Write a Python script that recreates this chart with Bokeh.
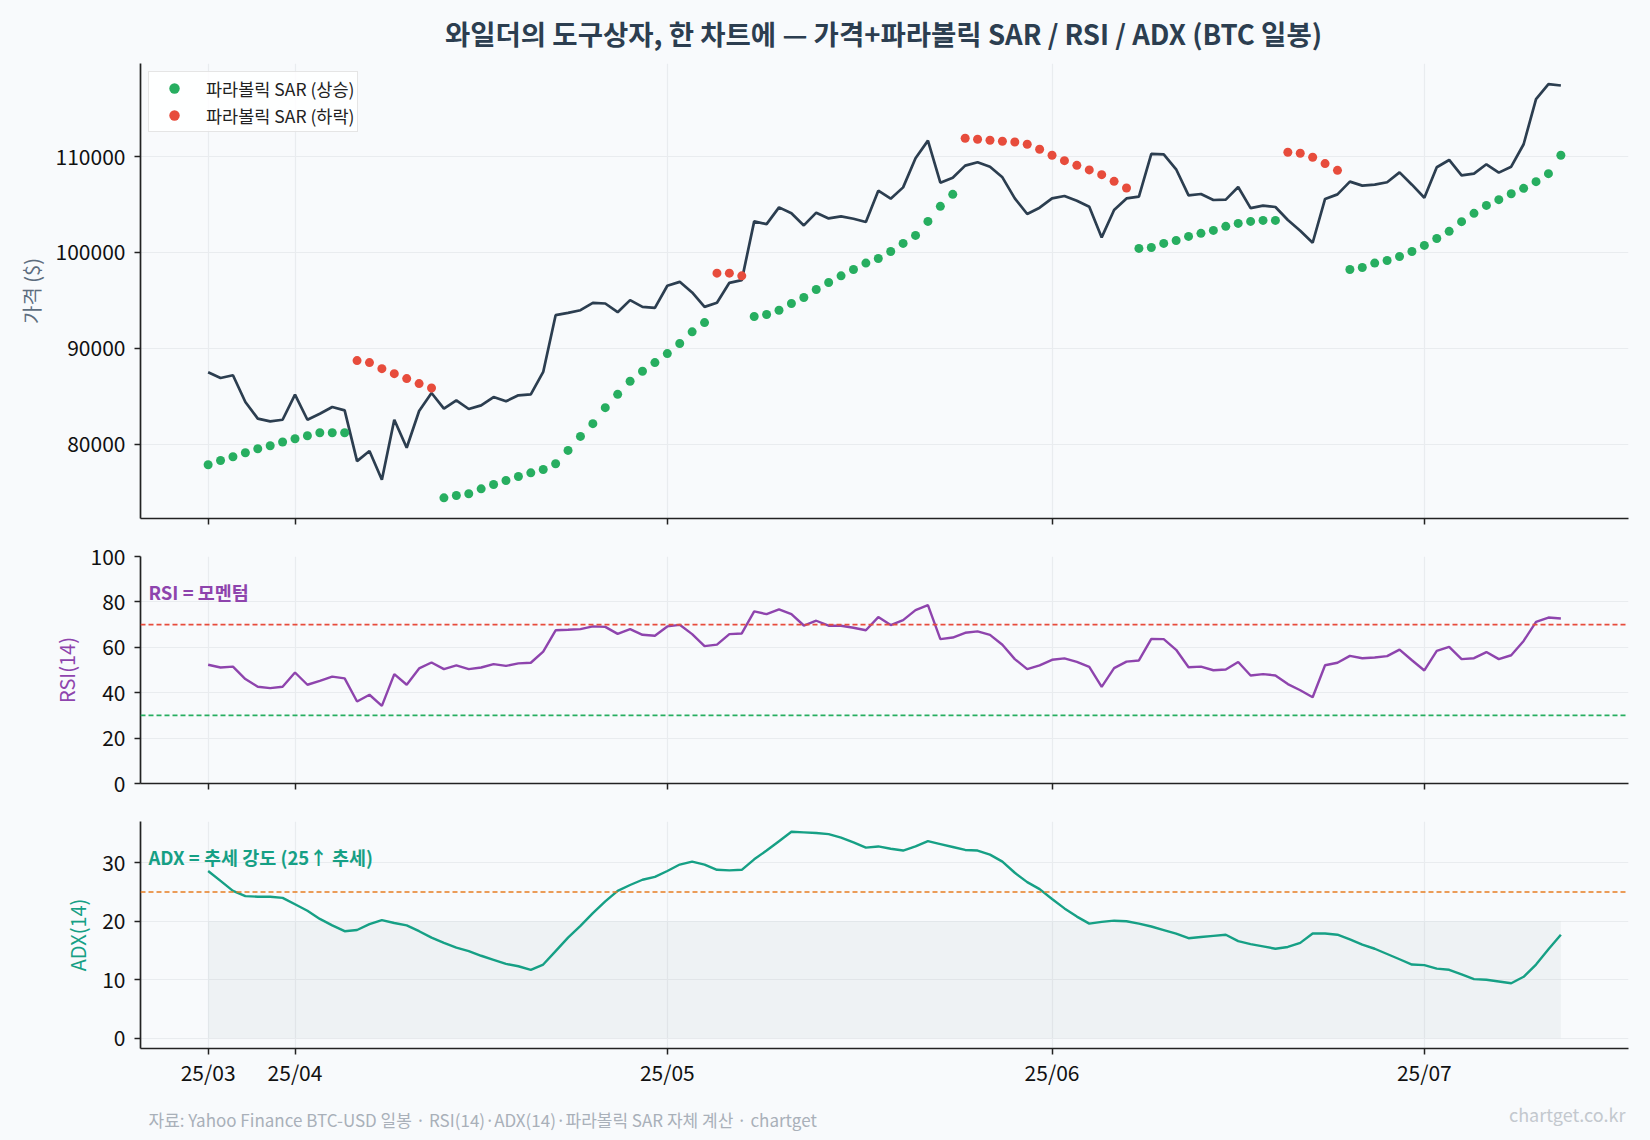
import numpy as np
import pandas as pd
from bokeh.plotting import figure
from bokeh.layouts import column
from bokeh.models import (Range1d, FixedTicker, Span, Label, Legend, LegendItem,
                          ColumnDataSource)
from bokeh.embed import file_html
from bokeh.resources import INLINE

# ---------------- data ----------------
start_date = "2025-03-25"

price = [87490, 86900, 87180, 84390, 82650, 82370, 82540, 85160, 82540, 83170,
         83870, 83520, 78220, 79270, 76270, 82540, 79620, 83450, 85330, 83690,
         84560, 83660, 84040, 84910, 84460, 85090, 85190, 87530, 93450, 93690,
         93970, 94740, 94670, 93760, 95020, 94320, 94220, 96520, 96930, 95820,
         94320, 94740, 96830, 97110, 103240, 102960, 104700, 104080, 102820, 104150,
         103550, 103760, 103520, 103170, 106450, 105610, 106790, 109830, 111670, 107280,
         107800, 109060, 109410, 108950, 107840, 105640, 104010, 104670, 105640, 105890,
         105400, 104770, 101570, 104430, 105640, 105820, 110280, 110240, 108680, 105960,
         106100, 105470, 105510, 106830, 104630, 104880, 104740, 103380, 102260, 101010,
         105580, 106060, 107390, 106970, 107070, 107320, 108360, 107070, 105710, 108890,
         109650, 108050, 108220, 109200, 108330, 108950, 111290, 115990, 117560, 117420]

sar = [77840, 78290, 78680, 79090, 79510, 79830, 80210, 80560, 80870, 81180,
       81180, 81180, 88710, 88500, 87870, 87350, 86830, 86310, 85850, 74390,
       74630, 74810, 75330, 75780, 76200, 76620, 77000, 77350, 77940, 79340,
       80800, 82130, 83800, 85190, 86550, 87600, 88500, 89440, 90490, 91710,
       92680, 97840, 97840, 97560, 93310, 93520, 93970, 94670, 95300, 96130,
       96860, 97560, 98220, 98890, 99370, 100100, 100940, 101780, 103240, 104810,
       106060, 111920, 111810, 111710, 111600, 111530, 111290, 110770, 110140, 109580,
       109090, 108610, 108120, 107420, 106720, 100420, 100520, 100940, 101250, 101670,
       101990, 102300, 102720, 103030, 103240, 103340, 103340, 110450, 110350, 109930,
       109270, 108570, 98220, 98430, 98890, 99160, 99580, 100100, 100730, 101460,
       102200, 103210, 104080, 104910, 105510, 106130, 106690, 107390, 108220, 110140]

# 1 = SAR below price (uptrend), -1 = SAR above price (downtrend)
sar_trend = [1, 1, 1, 1, 1, 1, 1, 1, 1, 1,
             1, 1, -1, -1, -1, -1, -1, -1, -1, 1,
             1, 1, 1, 1, 1, 1, 1, 1, 1, 1,
             1, 1, 1, 1, 1, 1, 1, 1, 1, 1,
             1, -1, -1, -1, 1, 1, 1, 1, 1, 1,
             1, 1, 1, 1, 1, 1, 1, 1, 1, 1,
             1, -1, -1, -1, -1, -1, -1, -1, -1, -1,
             -1, -1, -1, -1, -1, 1, 1, 1, 1, 1,
             1, 1, 1, 1, 1, 1, 1, -1, -1, -1,
             -1, -1, 1, 1, 1, 1, 1, 1, 1, 1,
             1, 1, 1, 1, 1, 1, 1, 1, 1, 1]

rsi = [52.3, 51.1, 51.5, 46.0, 42.6, 42.0, 42.6, 48.9, 43.5, 45.2,
       47.1, 46.3, 36.1, 39.1, 34.2, 48.2, 43.5, 50.7, 53.3, 50.4,
       52.0, 50.4, 51.1, 52.6, 51.8, 52.9, 53.2, 58.1, 67.5, 67.7,
       68.0, 69.2, 69.0, 65.9, 68.0, 65.5, 65.1, 69.2, 69.9, 65.8,
       60.5, 61.2, 65.8, 66.1, 75.8, 74.6, 76.7, 74.6, 69.6, 71.7,
       69.5, 69.5, 68.6, 67.5, 73.3, 69.8, 72.0, 76.4, 78.6, 63.6,
       64.3, 66.4, 67.0, 65.5, 61.1, 54.8, 50.4, 52.0, 54.5, 55.1,
       53.6, 51.4, 42.6, 50.8, 53.7, 54.2, 63.7, 63.6, 58.9, 51.2,
       51.5, 49.9, 50.2, 53.5, 47.6, 48.2, 47.6, 43.8, 41.1, 38.0,
       52.1, 53.2, 56.2, 55.2, 55.5, 56.1, 59.0, 54.3, 49.8, 58.4,
       60.2, 54.8, 55.2, 57.9, 54.8, 56.5, 62.8, 71.2, 73.1, 72.7]

adx = [28.6, 26.9, 25.2, 24.3, 24.2, 24.2, 24.0, 22.9, 21.8, 20.4,
       19.3, 18.3, 18.5, 19.5, 20.2, 19.7, 19.3, 18.3, 17.2, 16.3,
       15.5, 14.9, 14.1, 13.4, 12.7, 12.3, 11.7, 12.6, 14.9, 17.2,
       19.2, 21.4, 23.4, 25.2, 26.2, 27.1, 27.6, 28.6, 29.7, 30.2,
       29.7, 28.8, 28.7, 28.8, 30.6, 32.1, 33.7, 35.3, 35.2, 35.1,
       34.9, 34.3, 33.5, 32.6, 32.8, 32.4, 32.1, 32.8, 33.7, 33.2,
       32.7, 32.2, 32.1, 31.4, 30.2, 28.3, 26.7, 25.5, 23.8, 22.2,
       20.8, 19.6, 19.9, 20.1, 20.0, 19.6, 19.1, 18.5, 17.9, 17.1,
       17.3, 17.5, 17.7, 16.6, 16.1, 15.7, 15.3, 15.6, 16.3, 17.9,
       17.9, 17.7, 16.9, 16.0, 15.3, 14.4, 13.5, 12.6, 12.5, 11.9,
       11.7, 10.9, 10.1, 10.0, 9.7, 9.4, 10.5, 12.6, 15.2, 17.7]

rsi_overbought = 70
rsi_oversold = 30
adx_trend_level = 25
adx_weak_level = 20

price_ticks = [80000, 90000, 100000, 110000]
rsi_ticks = [0, 20, 40, 60, 80, 100]
adx_ticks = [0, 10, 20, 30]

title_text = "와일더의 도구상자, 한 차트에 — 가격+파라볼릭 SAR / RSI / ADX (BTC 일봉)"
legend_up = "파라볼릭 SAR (상승)"
legend_down = "파라볼릭 SAR (하락)"
rsi_note = "RSI = 모멘텀"
adx_note = "ADX = 추세 강도 (25↑ 추세)"
footer_text = "자료: Yahoo Finance BTC-USD 일봉 · RSI(14)·ADX(14)·파라볼릭 SAR 자체 계산 · chartget"
brand_text = "chartget.co.kr"

# ---------------- derived ----------------
n = len(price)
x = np.arange(n)
dates = pd.date_range(start_date, periods=n, freq="D")
month_key = np.array(dates.strftime("%y/%m"))
_, first_idx = np.unique(month_key, return_index=True)
tick_idx = sorted(int(i) for i in first_idx)
tick_map = {i: str(month_key[i]) for i in tick_idx}

FONT = "Noto Sans CJK KR"
BG = "#f8fafc"
GRID = "#e9ecef"
AX = "#222222"
W = 1650
LEFT, RIGHT = 140, 22

pad = 0.05 * (n - 1)
xr = Range1d(-pad, (n - 1) + pad)

lo = min(min(price), min(sar)); hi = max(max(price), max(sar))
pm = 0.05 * (hi - lo)
yr_price = Range1d(lo - pm, hi + pm)
yr_rsi = Range1d(0, 100)
am = 0.05 * (max(adx) - 0)
yr_adx = Range1d(0 - am, max(adx) + am)


def text_strip(height):
    # frame spans the same horizontal extent as the chart panels; x data == page pixels
    p = figure(width=W, height=height, x_range=Range1d(LEFT, W - RIGHT),
               y_range=Range1d(0, height),
               x_axis_type=None, y_axis_type=None, output_backend="svg",
               toolbar_location=None, min_border_left=LEFT, min_border_right=RIGHT,
               min_border_top=0, min_border_bottom=0)
    p.background_fill_color = BG
    p.border_fill_color = BG
    p.outline_line_color = None
    p.grid.visible = False
    return p


def make_fig(height, y_range, top, bottom, yticks, ylabel, ylabel_color, show_xlabels):
    p = figure(width=W, height=height, x_range=xr, y_range=y_range,
               output_backend="svg", toolbar_location=None,
               min_border_left=LEFT, min_border_right=RIGHT,
               min_border_top=top, min_border_bottom=bottom)
    p.background_fill_color = BG
    p.border_fill_color = BG
    p.outline_line_color = None
    for ax in (p.xaxis[0], p.yaxis[0]):
        ax.axis_line_color = AX
        ax.axis_line_width = 1.7
        ax.major_tick_line_color = AX
        ax.major_tick_line_width = 1.5
        ax.major_tick_out = 6
        ax.major_tick_in = 0
        ax.minor_tick_line_color = None
        ax.major_label_text_font = FONT
        ax.major_label_text_font_size = "21px"
        ax.major_label_text_color = "#111111"
    if show_xlabels:
        p.xaxis.ticker = FixedTicker(ticks=tick_idx)
        p.xaxis.major_label_overrides = tick_map
        p.xaxis.major_label_standoff = 2
    else:
        # tick marks only (no labels) on the upper panels
        p.xaxis.ticker = FixedTicker(ticks=[], minor_ticks=tick_idx)
        p.xaxis.minor_tick_line_color = AX
        p.xaxis.minor_tick_line_width = 1.5
        p.xaxis.minor_tick_out = 6
        p.xaxis.minor_tick_in = 0
    p.xgrid.ticker = FixedTicker(ticks=tick_idx)
    p.yaxis.ticker = FixedTicker(ticks=yticks)
    p.yaxis.major_label_standoff = 9
    p.yaxis.axis_label = ylabel
    p.yaxis.axis_label_text_font = FONT
    p.yaxis.axis_label_text_font_style = "normal"
    p.yaxis.axis_label_text_font_size = "20px"
    p.yaxis.axis_label_text_color = ylabel_color
    p.yaxis.axis_label_standoff = 7
    p.xgrid.grid_line_color = GRID
    p.ygrid.grid_line_color = GRID
    p.xgrid.grid_line_width = 1.2
    p.ygrid.grid_line_width = 1.2
    return p


# ---------------- title strip ----------------
pt = text_strip(58)
pt.add_layout(Label(x=883, y=25.3, text=title_text, text_align="center",
                    text_baseline="middle", text_font=FONT, text_font_style="bold",
                    text_font_size="27.5px", text_color="#2c3e50"))

# ---------------- price panel ----------------
p1 = make_fig(472, yr_price, 5, 12, price_ticks, "가격 ($)", "#5d6d7e", False)
p1.yaxis.formatter.use_scientific = False
p1.line(x, price, line_color="#2c3e50", line_width=2.7)

up_x = [int(i) for i in x if sar_trend[i] == 1]
dn_x = [int(i) for i in x if sar_trend[i] == -1]
src_up = ColumnDataSource(dict(x=up_x, y=[sar[i] for i in up_x]))
src_dn = ColumnDataSource(dict(x=dn_x, y=[sar[i] for i in dn_x]))
r_up = p1.scatter("x", "y", source=src_up, size=9, fill_color="#27ae60", line_color=None)
r_dn = p1.scatter("x", "y", source=src_dn, size=9, fill_color="#e74c3c", line_color=None)

legend = Legend(items=[LegendItem(label=legend_up, renderers=[r_up]),
                       LegendItem(label=legend_down, renderers=[r_dn])],
                location="top_left", margin=8, padding=3, spacing=1,
                glyph_width=44, glyph_height=26, label_standoff=10,
                label_text_font=FONT, label_text_font_size="17.5px",
                label_text_color="#222222",
                background_fill_color="#ffffff", background_fill_alpha=0.85,
                border_line_color="#cccccc", border_line_width=1.5)
p1.add_layout(legend)

# ---------------- RSI panel ----------------
p2 = make_fig(275, yr_rsi, 26, 22, rsi_ticks, "RSI(14)", "#8e44ad", False)
p2.add_layout(Span(location=rsi_overbought, dimension="width", line_color="#e74c3c",
                   line_dash="5 3", line_width=1.6))
p2.add_layout(Span(location=rsi_oversold, dimension="width", line_color="#27ae60",
                   line_dash="5 3", line_width=1.6))
p2.line(x, rsi, line_color="#8e44ad", line_width=2.4)
p2.add_layout(Label(x=8, y=192, x_units="screen", y_units="screen", text=rsi_note,
                    text_baseline="middle", text_font=FONT, text_font_style="bold",
                    text_font_size="18.5px", text_color="#8e44ad"))

# ---------------- ADX panel ----------------
p3 = make_fig(285, yr_adx, 16, 42, adx_ticks, "ADX(14)", "#16a085", True)
p3.varea(x=x, y1=[0] * n, y2=[adx_weak_level] * n, fill_color="#95a5a6", fill_alpha=0.09)
p3.add_layout(Span(location=adx_trend_level, dimension="width", line_color="#e67e22",
                   line_dash="5 3", line_width=1.6))
p3.line(x, adx, line_color="#16a085", line_width=2.4)
p3.add_layout(Label(x=8, y=192, x_units="screen", y_units="screen", text=adx_note,
                    text_baseline="middle", text_font=FONT, text_font_style="bold",
                    text_font_size="18.5px", text_color="#16a085"))

# ---------------- footer strip ----------------
pf = text_strip(50)
pf.add_layout(Label(x=148, y=21, text=footer_text, text_baseline="middle",
                    text_font=FONT, text_font_size="17px", text_color="#a9b0b9"))
pf.add_layout(Label(x=1625, y=27, text=brand_text, text_align="right",
                    text_baseline="middle", text_font=FONT, text_font_size="18px",
                    text_color="#c3c8ce"))

layout = column(pt, p1, p2, p3, pf, spacing=0)
html = file_html(layout, INLINE, title="BTC Wilder")
html = html.replace("<body>", '<body style="margin:0;background:#f8fafc;">')
open("out.html", "w").write(html)
